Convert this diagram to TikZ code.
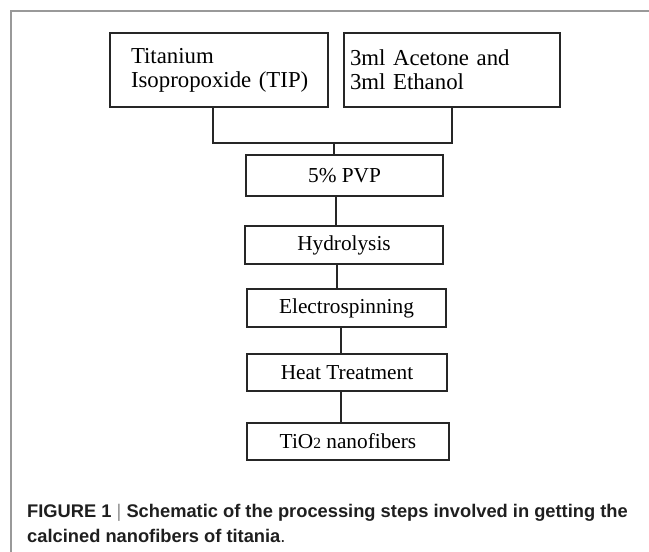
\documentclass[tikz,border=0pt]{standalone}
\usepackage{fontspec}
\setmainfont{Liberation Serif}
\newfontfamily\capfont{Liberation Sans}
\usetikzlibrary{positioning}

\begin{document}
\begin{tikzpicture}[%
        x=1pt, y=-1pt,
        box/.style={draw=black!85, line width=1.6pt, inner sep=0pt,
                    font=\fontsize{21.3}{24}\selectfont},
        topbox/.style={box, minimum height=74pt, align=left,
                    font=\fontsize{22.8}{24}\selectfont},
        stepbox/.style={box, minimum height=38pt},
        link/.style={draw=black!85, line width=1.4pt},
        caption/.style={anchor=base west, inner sep=0pt, text=black!88,
                    font=\capfont\bfseries\fontsize{18.3}{20}\selectfont}
        ]
        \useasboundingbox (0,0) rectangle (649,552);
        % frame
        \draw[black!40, line width=1.7pt] (11,552) -- (11,11) -- (649,11);

        \node[topbox, text width=197pt, inner xsep=10.5pt] (tip) at (219,70)
            {\hspace*{10.5pt}Titanium\\\hspace*{10.5pt}Isopropoxide (TIP)};
        \node[topbox, text width=204pt, inner xsep=6pt] (ace) at (452,70) {3ml Acetone and\\3ml Ethanol};
        \node[stepbox, minimum width=197pt, minimum height=41pt] (pvp) at (344.5,175.5) {5\% PVP};
        \node[stepbox, minimum width=198pt] (hyd) at (344,245) {Hydrolysis};
        \node[stepbox, minimum width=199pt] (ele) at (346.5,308) {Electrospinning};
        \node[stepbox, minimum width=200pt, minimum height=37pt] (heat) at (347,372.5) {Heat Treatment};
        \node[stepbox, minimum width=202pt, minimum height=37pt] (tio) at (348,441.5) {TiO{\fontsize{15.5}{15}\selectfont 2} nanofibers};

        % joining the two inputs
        \coordinate (join) at (334,143);
        \path[link] ([xshift=-6pt]tip.south) |- (join) -| (ace.south);
        \path[link] (join) -- (join |- pvp.north);

        % steps
        \path[link] ([xshift=-8.5pt]pvp.south) -- ([xshift=-8.5pt]pvp.south |- hyd.north);
        \path[link] ([xshift=-7pt]hyd.south) -- ([xshift=-7pt]hyd.south |- ele.north);
        \path[link] ([xshift=-5.5pt]ele.south) -- ([xshift=-5.5pt]ele.south |- heat.north);
        \path[link] ([xshift=-6pt]heat.south) -- ([xshift=-6pt]heat.south |- tio.north);

        \node[caption] (capone) at (27,517) {FIGURE 1 \textcolor{black!45}{\mdseries|} Schematic of the processing steps involved in getting the};
        \node[caption] (captwo) at (27,542) {calcined nanofibers of titania\mdseries.};
\end{tikzpicture}
\end{document}
